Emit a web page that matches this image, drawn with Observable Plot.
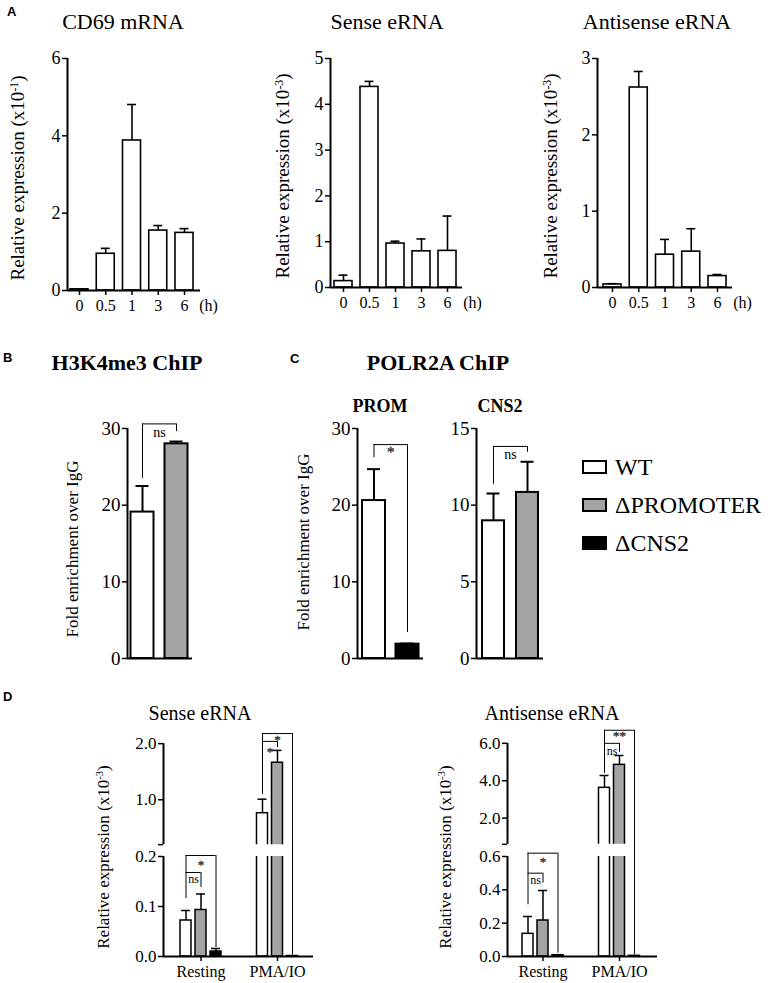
<!DOCTYPE html>
<html><head><meta charset="utf-8">
<script src="https://cdn.jsdelivr.net/npm/d3@7"></script>
<script src="https://cdn.jsdelivr.net/npm/@observablehq/plot@0.6"></script>
<style>
html,body{margin:0;padding:0;background:#fff;}
#fig{position:relative;width:770px;height:983px;overflow:hidden;font-family:'Liberation Serif','Times New Roman',serif;color:#000;}
.t{position:absolute;white-space:nowrap;line-height:1;transform:translate(-50%,-50%);}
.r{transform:translate(-50%,-50%) rotate(-90deg);}
.lt{position:absolute;font-family:'Liberation Sans',Arial,sans-serif;font-weight:bold;font-size:13px;line-height:1;transform:translateY(-50%);}
sup{font-size:0.62em;vertical-align:0.5em;line-height:0;}
.sw{position:absolute;box-sizing:border-box;border:2px solid #000;}
.lg{position:absolute;font-size:24px;line-height:1;white-space:nowrap;transform:translateY(-50%);}
</style></head><body><div id="fig"></div>
<script>
// ---------------- data ----------------
const timeLabels = ["0", "0.5", "1", "3", "6"];
const cd69Mean = [0.03, 0.95, 3.88, 1.55, 1.49];
const cd69SD = [0.01, 0.14, 0.93, 0.13, 0.11];
const senseMean = [0.14, 4.38, 0.96, 0.79, 0.80];
const senseSD = [0.13, 0.12, 0.05, 0.27, 0.76];
const antisenseMean = [0.04, 2.62, 0.43, 0.47, 0.15];
const antisenseSD = [0.01, 0.21, 0.20, 0.30, 0.02];

const genotypes = ["WT", "ΔPROMOTER", "ΔCNS2"];
const genoFill = {"WT": "#ffffff", "ΔPROMOTER": "#a3a3a3", "ΔCNS2": "#000000"};

const h3k4Geno = ["WT", "ΔPROMOTER"];
const h3k4Mean = [19.1, 28.0];
const h3k4SD = [3.4, 0.3];

const promGeno = ["WT", "ΔCNS2"];
const promMean = [20.6, 1.87];
const promSD = [4.1, 0.08];

const cns2Geno = ["WT", "ΔPROMOTER"];
const cns2Mean = [8.98, 10.83];
const cns2SD = [1.78, 2.0];

const conditions = ["Resting", "PMA/IO"];
const dSenseWT = [0.072, 0.76], dSenseWTsd = [0.020, 0.25];
const dSensePROM = [0.093, 1.66], dSensePROMsd = [0.032, 0.22];
const dSenseCNS2 = [0.010, 0.001], dSenseCNS2sd = [0.006, 0];
const dAntiWT = [0.136, 3.62], dAntiWTsd = [0.104, 0.66];
const dAntiPROM = [0.216, 4.85], dAntiPROMsd = [0.18, 0.50];
const dAntiCNS2 = [0.008, 0.004], dAntiCNS2sd = [0, 0];

// significance brackets: from bar, to bar, left-leg bottom, top, right-leg bottom, label, label y
const sigH3K4 = [[0, 1, 23.5, 30.6, 29.6, "ns", 29.5]];
const sigProm = [[0, 1, 26.2, 27.9, 3.4, "*", 26.9]];
const sigCns2 = [[0, 1, 11.37, 13.83, 13.45, "ns", 13.3]];
const sigDSense = [
  [[0, 0], [0, 1], 0.116, 0.168, 0.138, "ns", 0.155],
  [[0, 0], [0, 2], 0.168, 0.202, 0.018, "*", 0.184],
  [[1, 0], [1, 2], 1.10, 2.18, 0.003, "*", 2.06],
  [[1, 0], [1, 1], 1.10, 2.04, 1.93, "*", 1.86]
];
const sigDAnti = [
  [[0, 0], [0, 1], 0.31, 0.50, 0.44, "ns", 0.46],
  [[0, 0], [0, 2], 0.50, 0.62, 0.02, "*", 0.57],
  [[1, 0], [1, 2], 4.4, 6.7, 0.01, "**", 6.38],
  [[1, 0], [1, 1], 4.4, 6.0, 5.52, "ns", 5.58]
];

// ---------------- helpers ----------------
const SERIF = "'Liberation Serif','Times New Roman',serif";
const fig = document.getElementById("fig");
function put(node, left, top) {
  const d = document.createElement("div");
  d.style.cssText = `position:absolute;left:${left}px;top:${top}px;`;
  d.appendChild(node);
  fig.appendChild(d);
}
function label(html, x, y, size, opts = {}) {
  const d = document.createElement("div");
  d.className = "t" + (opts.rot ? " r" : "");
  d.style.left = x + "px"; d.style.top = y + "px"; d.style.fontSize = size + "px";
  if (opts.bold) d.style.fontWeight = "bold";
  d.innerHTML = html;
  fig.appendChild(d);
}
function letter(s, x, y) {
  const d = document.createElement("div");
  d.className = "lt"; d.textContent = s;
  d.style.left = x + "px"; d.style.top = y + "px";
  fig.appendChild(d);
}
const baseStyle = (fs) => ({fontFamily: SERIF, fontSize: fs + "px", color: "#000", background: "transparent", overflow: "visible", maxWidth: "none"});
const fmtInt = d => String(d);
const fmt1 = d => d.toFixed(1);

function sigText(T, fs) {
  return [
    Plot.text(T.filter(d => d.s === "ns"), {x: "x", y: "y", text: "s", fontSize: fs, fill: "#000"}),
    Plot.text(T.filter(d => d.s !== "ns"), {x: "x", y: "y", text: "s", fontSize: fs + 1, fill: "#333", stroke: "#333", strokeWidth: 0.4})
  ];
}

function bracketMarks(list, pos, fs) {
  const v = [], h = [], t = [];
  for (const [a, b, ya, top, yb, lab, ly] of list) {
    const xa = pos(a), xb = pos(b);
    v.push({x: xa, y1: ya, y2: top}, {x: xb, y1: yb, y2: top});
    h.push({y: top, x1: xa, x2: xb});
    t.push({x: (xa + xb) / 2, y: ly, s: lab});
  }
  return [
    Plot.ruleX(v, {x: "x", y1: "y1", y2: "y2", strokeWidth: 1}),
    Plot.ruleY(h, {y: "y", x1: "x1", x2: "x2", strokeWidth: 1}),
    ...sigText(t, fs)
  ];
}

// simple bar panel
function barPanel(c) {
  const mL = 40, mR = 34, mT = 14, mB = 30;
  const x0 = (c.ax - c.c0) / c.step, x1 = (c.rx - c.c0) / c.step;
  const hw = c.barW / 2 / c.step, cw = c.capW / 2 / c.step;
  const sd = c.rows.filter(d => d.sd > 0);
  const marks = [
    Plot.rect(c.rows, {x1: d => d.i - hw, x2: d => d.i + hw, y1: 0, y2: "v", fill: "fill", stroke: "#000", strokeWidth: c.sw}),
    Plot.ruleX(sd, {x: "i", y1: "v", y2: d => d.v + d.sd, strokeWidth: c.sw}),
    Plot.ruleY(sd, {y: d => d.v + d.sd, x1: d => d.i - cw, x2: d => d.i + cw, strokeWidth: c.sw}),
    Plot.ruleY([0], {strokeWidth: 2}),
    Plot.ruleX([x0], {y1: 0, y2: c.yMax, strokeWidth: 2}),
    Plot.axisY({ticks: c.yTicks, tickFormat: fmtInt, tickSize: 5, tickPadding: 2, strokeWidth: 1.5, fontSize: c.tickFont, label: null})
  ];
  if (c.xLabels) {
    marks.push(
      Plot.axisX({ticks: d3.range(c.xLabels.length), tickFormat: i => c.xLabels[i], tickSize: 5, tickPadding: 4, strokeWidth: 1.5, fontSize: 16, label: null}),
      Plot.text([c.xLabels.length - 1], {x: d => d, y: 0, text: () => "(h)", dx: c.suffixDx, dy: 9, lineAnchor: "top", fontSize: 16})
    );
  }
  if (c.brackets) marks.push(...bracketMarks(c.brackets, i => i, 14));
  const svg = Plot.plot({
    width: mL + (c.rx - c.ax) + mR,
    height: mT + (c.y0 - c.yTop) + mB,
    marginLeft: mL, marginRight: mR, marginTop: mT, marginBottom: mB,
    x: {type: "linear", domain: [x0, x1], axis: c.xLabels ? undefined : null, label: null},
    y: {domain: [0, c.yMax], label: null},
    color: {type: "identity"},
    style: baseStyle(c.tickFont),
    marks
  });
  put(svg, c.ax - mL, c.yTop - mT);
}

// broken-axis grouped bar panel
function brokenPanel(c) {
  const mL = 40, mR = 12;
  const W = mL + (c.rx - c.ax) + mR;
  const x0 = (c.ax - c.c0) / c.step, x1 = (c.rx - c.c0) / c.step;
  const hw = c.barW / 2 / c.step, cw = c.capW / 2 / c.step;
  const pos = ([g, k]) => g * c.gap + (k - 1);
  const lowPx = (c.y0 - c.lowTopPx) / c.lowMax;
  const gapVal = c.lowMax + (c.lowTopPx - c.upBotPx) / lowPx;
  const upPx = (c.upBotPx - c.upTickPx) / (c.upMax - c.lowMax);
  const upFrameTop = c.upBotPx - (c.upTop - c.lowMax) * upPx;
  const rows = c.rows.map(d => ({...d, x: pos([d.g, d.k])}));
  const lowRows = rows.filter(d => d.v <= c.lowMax), upRows = rows.filter(d => d.v > c.lowMax);

  // split bracket geometry between the two segments
  const lowV = [], upV = [], lowH = [], upH = [], lowT = [], upT = [];
  const vseg = (x, a, b) => {
    if (b <= gapVal) lowV.push({x, y1: a, y2: b});
    else if (a < c.lowMax) { lowV.push({x, y1: a, y2: gapVal}); upV.push({x, y1: c.lowMax, y2: b}); }
    else upV.push({x, y1: a, y2: b});
  };
  for (const [a, b, ya, top, yb, lab, ly] of c.brackets) {
    const xa = pos(a), xb = pos(b);
    vseg(xa, ya, top); vseg(xb, yb, top);
    (top <= gapVal ? lowH : upH).push({y: top, x1: xa, x2: xb});
    (ly <= gapVal ? lowT : upT).push({x: (xa + xb) / 2, y: ly, s: lab});
  }
  const brk = (V, H, T) => [
    Plot.ruleX(V, {x: "x", y1: "y1", y2: "y2", strokeWidth: 1}),
    Plot.ruleY(H, {y: "y", x1: "x1", x2: "x2", strokeWidth: 1}),
    ...sigText(T, 12)
  ];
  const errMarks = (R) => [
    Plot.ruleX(R.filter(d => d.sd > 0), {x: "x", y1: "v", y2: d => d.v + d.sd, strokeWidth: 1.5}),
    Plot.ruleY(R.filter(d => d.sd > 0), {y: d => d.v + d.sd, x1: d => d.x - cw, x2: d => d.x + cw, strokeWidth: 1.5})
  ];
  const barMark = (R) => Plot.rect(R, {x1: d => d.x - hw, x2: d => d.x + hw, y1: 0, y2: "v", fill: "fill", stroke: "#000", strokeWidth: 1.5, clip: true});

  // lower segment
  const lowMT = c.lowTopPx - c.upBotPx, lowMB = 30;
  const low = Plot.plot({
    width: W, height: lowMT + (c.y0 - c.lowTopPx) + lowMB,
    marginLeft: mL, marginRight: mR, marginTop: lowMT, marginBottom: lowMB,
    x: {type: "linear", domain: [x0, x1], label: null},
    y: {domain: [0, c.lowMax], label: null},
    color: {type: "identity"},
    style: baseStyle(17),
    marks: [
      barMark(rows),
      ...errMarks(lowRows),
      Plot.ruleY([0], {strokeWidth: 2}),
      Plot.ruleX([x0], {y1: 0, y2: c.lowMax, strokeWidth: 2}),
      Plot.axisY({ticks: c.lowTicks, tickFormat: fmt1, tickSize: 5, tickPadding: 2, strokeWidth: 1.5, fontSize: 17, label: null}),
      Plot.axisX({ticks: conditions.map((_, g) => g * c.gap), tickFormat: (d, i) => conditions[i], tickSize: 5, tickPadding: 4, strokeWidth: 1.5, fontSize: 16, label: null}),
      ...brk(lowV, lowH, lowT)
    ]
  });
  put(low, c.ax - mL, c.upBotPx);

  // upper segment
  const upMT = 4;
  const up = Plot.plot({
    width: W, height: upMT + (c.upBotPx - upFrameTop),
    marginLeft: mL, marginRight: mR, marginTop: upMT, marginBottom: 0,
    x: {type: "linear", domain: [x0, x1], axis: null},
    y: {domain: [c.lowMax, c.upTop], label: null},
    color: {type: "identity"},
    style: baseStyle(17),
    marks: [
      barMark(upRows),
      ...errMarks(upRows),
      Plot.ruleX([x0], {y1: c.lowMax, y2: c.upMax, strokeWidth: 2}),
      Plot.axisY({ticks: c.upTicks, tickFormat: d => d === c.lowMax ? "" : fmt1(d), tickSize: 5, tickPadding: 2, strokeWidth: 1.5, fontSize: 17, label: null}),
      ...brk(upV, upH, upT)
    ]
  });
  put(up, c.ax - mL, upFrameTop - upMT);
}

const rowsOf = (means, sds, fills) => means.map((v, i) => ({i, v, sd: sds[i], fill: fills[i]}));
const groupRows = (series) => series.flatMap(([mean, sd, geno], k) => mean.map((v, g) => ({g, k, v, sd: sd[g], fill: genoFill[geno]})));

// ---------------- panel A ----------------
letter("A", 7, 11);
const white5 = timeLabels.map(() => genoFill["WT"]);
barPanel({ax: 67, rx: 200, y0: 290, yTop: 58, yMax: 6, c0: 79, step: 26.25, barW: 18, capW: 9, sw: 1.6,
  yTicks: [0, 2, 4, 6], tickFont: 18, rows: rowsOf(cd69Mean, cd69SD, white5), xLabels: timeLabels, suffixDx: 24});
barPanel({ax: 330, rx: 462, y0: 287, yTop: 58, yMax: 5, c0: 343, step: 26, barW: 18, capW: 9, sw: 1.6,
  yTicks: [0, 1, 2, 3, 4, 5], tickFont: 18, rows: rowsOf(senseMean, senseSD, white5), xLabels: timeLabels, suffixDx: 25});
barPanel({ax: 597, rx: 732, y0: 287, yTop: 58, yMax: 3, c0: 612, step: 26.25, barW: 18, capW: 9, sw: 1.6,
  yTicks: [0, 1, 2, 3], tickFont: 18, rows: rowsOf(antisenseMean, antisenseSD, white5), xLabels: timeLabels, suffixDx: 25});
label("CD69 mRNA", 123, 22, 22);
label("Sense eRNA", 387, 22, 22);
label("Antisense eRNA", 657, 22, 22);
label("Relative expression (x10<sup>-1</sup>)", 17, 178, 19, {rot: true});
label("Relative expression (x10<sup>-3</sup>)", 282, 176, 19, {rot: true});
label("Relative expression (x10<sup>-3</sup>)", 550, 176, 19, {rot: true});

// ---------------- panel B ----------------
letter("B", 3, 357);
label("H3K4me3 ChIP", 127, 363, 22, {bold: true});
barPanel({ax: 127, rx: 192, y0: 658, yTop: 428, yMax: 30, c0: 142, step: 34, barW: 23, capW: 13, sw: 2,
  yTicks: [0, 10, 20, 30], tickFont: 19, rows: rowsOf(h3k4Mean, h3k4SD, h3k4Geno.map(g => genoFill[g])), brackets: sigH3K4});
label("Fold enrichment over IgG", 72, 549, 17, {rot: true});

// ---------------- panel C ----------------
letter("C", 290, 358);
label("POLR2A ChIP", 438, 363, 22, {bold: true});
label("PROM", 380, 406, 18, {bold: true});
label("CNS2", 500, 406, 18, {bold: true});
barPanel({ax: 357, rx: 423, y0: 658, yTop: 428, yMax: 30, c0: 373.5, step: 33.5, barW: 23, capW: 13, sw: 2,
  yTicks: [0, 10, 20, 30], tickFont: 19, rows: rowsOf(promMean, promSD, promGeno.map(g => genoFill[g])), brackets: sigProm});
barPanel({ax: 476, rx: 543, y0: 658, yTop: 428, yMax: 15, c0: 493, step: 34, barW: 22, capW: 13, sw: 2,
  yTicks: [0, 5, 10, 15], tickFont: 19, rows: rowsOf(cns2Mean, cns2SD, cns2Geno.map(g => genoFill[g])), brackets: sigCns2});
label("Fold enrichment over IgG", 303, 542, 17, {rot: true});

// legend
genotypes.forEach((g, i) => {
  const cy = 467 + i * 38;
  const sw = document.createElement("div");
  sw.className = "sw";
  sw.style.cssText += `left:582px;top:${cy - 7}px;width:25px;height:14px;background:${genoFill[g]};`;
  fig.appendChild(sw);
  const t = document.createElement("div");
  t.className = "lg"; t.textContent = g;
  t.style.left = "615px"; t.style.top = cy + "px";
  fig.appendChild(t);
});

// ---------------- panel D ----------------
letter("D", 3, 696);
label("Sense eRNA", 200, 713, 20);
label("Antisense eRNA", 552, 713, 20);
brokenPanel({ax: 163, rx: 313, c0: 200.5, step: 15, gap: 5.1, barW: 11, capW: 9,
  y0: 956, lowTopPx: 856, upBotPx: 844, upTickPx: 743, lowMax: 0.2, upMax: 2.0, upTop: 2.27,
  lowTicks: [0, 0.1, 0.2], upTicks: [0.2, 1.0, 2.0],
  rows: groupRows([[dSenseWT, dSenseWTsd, "WT"], [dSensePROM, dSensePROMsd, "ΔPROMOTER"], [dSenseCNS2, dSenseCNS2sd, "ΔCNS2"]]),
  brackets: sigDSense});
brokenPanel({ax: 507, rx: 657, c0: 542.5, step: 15, gap: 5.1, barW: 11, capW: 9,
  y0: 956, lowTopPx: 856, upBotPx: 844, upTickPx: 743, lowMax: 0.6, upMax: 6.0, upTop: 6.9,
  lowTicks: [0, 0.2, 0.4, 0.6], upTicks: [0.6, 2.0, 4.0, 6.0],
  rows: groupRows([[dAntiWT, dAntiWTsd, "WT"], [dAntiPROM, dAntiPROMsd, "ΔPROMOTER"], [dAntiCNS2, dAntiCNS2sd, "ΔCNS2"]]),
  brackets: sigDAnti});
label("Relative expression (x10<sup>-3</sup>)", 103, 857, 17, {rot: true});
label("Relative expression (x10<sup>-3</sup>)", 445, 857, 17, {rot: true});
</script></body></html>
